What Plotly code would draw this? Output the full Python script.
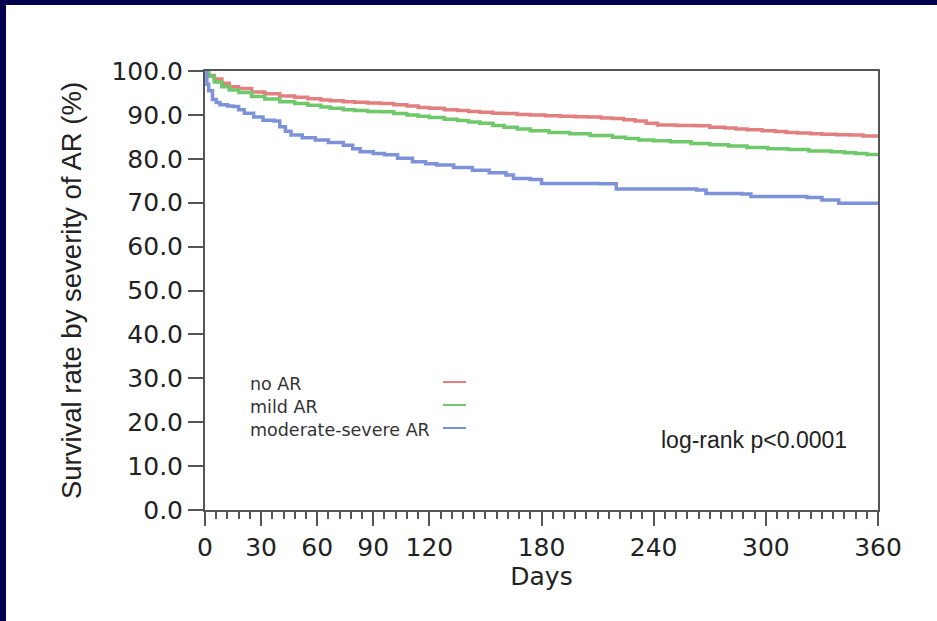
import plotly.graph_objects as go

# ---- data ----
days_no = [0, 2, 5, 9, 13, 18, 25, 32, 40, 48, 55, 62, 67, 74, 80, 87, 94, 101, 108, 114, 120, 128, 135, 141, 147, 154, 160, 167, 174, 182, 190, 198, 205, 212, 218, 224, 230, 236, 242, 252, 263, 270, 278, 284, 290, 298, 305, 311, 317, 324, 330, 338, 345, 352, 360]
surv_no = [100.0, 99.0, 98.2, 97.2, 96.4, 96.0, 95.2, 94.8, 94.3, 94.0, 93.7, 93.4, 93.2, 93.0, 92.9, 92.7, 92.6, 92.3, 92.0, 91.7, 91.5, 91.2, 91.0, 90.8, 90.6, 90.4, 90.3, 90.1, 90.0, 89.8, 89.7, 89.6, 89.5, 89.3, 89.2, 88.9, 88.6, 88.1, 87.7, 87.6, 87.5, 87.2, 87.0, 86.8, 86.6, 86.4, 86.2, 86.0, 85.9, 85.7, 85.6, 85.5, 85.4, 85.2, 85.0]

days_mild = [0, 2, 5, 9, 13, 18, 25, 32, 40, 48, 55, 62, 67, 74, 80, 87, 94, 101, 108, 114, 120, 128, 135, 141, 147, 154, 160, 167, 174, 184, 195, 206, 218, 225, 232, 240, 249, 260, 270, 280, 290, 301, 312, 323, 335, 342, 348, 354, 360]
surv_mild = [100.0, 98.8, 97.5, 96.4, 95.7, 95.1, 94.2, 93.6, 93.0, 92.6, 92.2, 91.8, 91.5, 91.2, 91.0, 90.8, 90.7, 90.3, 90.0, 89.7, 89.4, 89.0, 88.7, 88.4, 88.1, 87.6, 87.2, 86.8, 86.4, 86.0, 85.7, 85.3, 84.9, 84.6, 84.3, 84.1, 83.9, 83.5, 83.2, 82.9, 82.6, 82.3, 82.1, 81.8, 81.6, 81.4, 81.2, 81.0, 80.9]

days_mod = [0, 1, 2, 4, 6, 8, 12, 15, 18, 21, 26, 31, 37, 40, 43, 46, 52, 59, 66, 74, 79, 83, 90, 96, 103, 111, 118, 124, 133, 143, 152, 161, 165, 174, 180, 211, 220, 263, 268, 287, 292, 322, 330, 339, 360]
surv_mod = [100.0, 97.0, 95.5, 93.5, 92.8, 92.3, 92.0, 91.9, 91.2, 90.4, 89.5, 88.8, 88.6, 87.3, 86.3, 85.4, 84.8, 84.3, 83.7, 83.1, 82.3, 81.6, 81.2, 80.9, 80.1, 79.3, 78.9, 78.6, 78.0, 77.4, 76.8, 76.3, 75.5, 75.3, 74.4, 74.3, 73.1, 72.9, 72.1, 72.0, 71.4, 71.2, 70.6, 69.9, 69.9]

series_names = ["no AR", "mild AR", "moderate-severe AR"]
series_colors = ["#e47f80", "#6fc86a", "#7d92d8"]

x_ticks = [0, 30, 60, 90, 120, 180, 240, 300, 360]
y_ticks = [0, 10, 20, 30, 40, 50, 60, 70, 80, 90, 100]

W, H = 937, 621
ML, MR, MT, MB = 205, 59, 71, 111
PW, PH = W - ML - MR, H - MT - MB

fig = go.Figure()
for xs, ys, name, col in zip([days_no, days_mild, days_mod], [surv_no, surv_mild, surv_mod], series_names, series_colors):
    fig.add_trace(go.Scatter(x=xs, y=ys, mode="lines", name=name, line=dict(color=col, width=3.5, shape="hv"), showlegend=False))

def px_x(p):
    return (p - ML) / PW

def px_y(p):
    return (H - MB - p) / PH

shapes = []
# navy frame (top and left)
shapes.append(dict(type="rect", xref="paper", yref="paper", x0=px_x(0), x1=px_x(W), y0=px_y(5), y1=px_y(0), fillcolor="#00004d", line=dict(width=0), layer="below"))
shapes.append(dict(type="rect", xref="paper", yref="paper", x0=px_x(0), x1=px_x(6), y0=px_y(H), y1=px_y(0), fillcolor="#00004d", line=dict(width=0), layer="below"))

annotations = []
# legend rows: text left, line sample right
leg_y = [384, 407, 430]
for name, col, yy in zip(series_names, series_colors, leg_y):
    annotations.append(dict(text=name, xref="paper", yref="paper", x=px_x(248), y=px_y(yy), xanchor="left", yanchor="middle", showarrow=False, font=dict(family="DejaVu Sans", size=17.5, color="#333333")))
    shapes.append(dict(type="line", xref="paper", yref="paper", x0=px_x(443), x1=px_x(466), y0=px_y(yy - 2), y1=px_y(yy - 2), line=dict(color=col, width=2)))

annotations.append(dict(text="log-rank p<0.0001", xref="paper", yref="paper", x=px_x(849), y=px_y(440), xanchor="right", yanchor="middle", showarrow=False, font=dict(family="Liberation Sans", size=23, color="#222222")))

fig.update_layout(
    width=W, height=H,
    margin=dict(l=ML, r=MR, t=MT, b=MB),
    paper_bgcolor="white", plot_bgcolor="white",
    shapes=shapes, annotations=annotations,
    font=dict(family="DejaVu Sans", color="#222222"),
)
fig.update_xaxes(
    range=[0, 360], tickvals=x_ticks, ticktext=[str(v) for v in x_ticks],
    showgrid=False, zeroline=False, showline=True, linecolor="#555555", linewidth=2, mirror=True,
    ticks="outside", ticklen=14, tickwidth=2, tickcolor="#555555",
    tickfont=dict(family="DejaVu Sans", size=25, color="#222222"),
    minor=dict(dtick=6, tick0=0, ticks="outside", ticklen=7, tickwidth=1.5, tickcolor="#555555", showgrid=False),
    title=dict(text="Days", font=dict(family="DejaVu Sans", size=25, color="#222222"), standoff=4),
)
fig.update_yaxes(
    range=[0, 100], tickvals=y_ticks, ticktext=[f"{v:.1f}" for v in y_ticks],
    showgrid=False, zeroline=False, showline=True, linecolor="#555555", linewidth=2, mirror=True,
    ticks="outside", ticklen=15, tickwidth=2, tickcolor="#555555",
    tickfont=dict(family="DejaVu Sans", size=25, color="#222222"),
    title=dict(text="Survival rate by severity of AR (%)", font=dict(family="Liberation Sans", size=27.5, color="#222222"), standoff=22),
)

fig.write_html("out.html")
